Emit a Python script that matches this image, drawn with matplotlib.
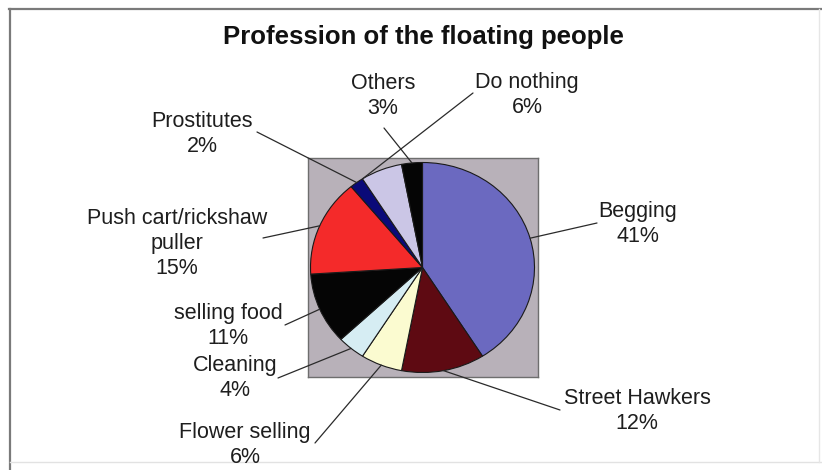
import numpy as np
import matplotlib.pyplot as plt
from matplotlib.lines import Line2D

plt.rcParams['font.family'] = ['Liberation Sans', 'DejaVu Sans']

# shares of each profession, clockwise from 12 o'clock
professions = ['Begging', 'Street Hawkers', 'Flower selling', 'Cleaning',
               'selling food', 'Push cart/rickshaw\npuller', 'Prostitutes',
               'Do nothing', 'Others']
shares = [41, 12, 6, 4, 11, 15, 2, 6, 3]
colors = ['#6b69c0', '#5e0a12', '#fbfbd0', '#d6edf3', '#050505',
          '#f42a2a', '#0a0a78', '#cbc6e6', '#050505']

# label centres (px from top-left) and where each leader line leaves the text
label_xy = [(638, 224), (637, 411), (245, 445), (235, 378), (228, 326),
            (177, 243), (202, 134), (527, 95), (383, 96)]
line_from = [(597, 223), (560, 410), (315, 443), (278, 378), (285, 325),
             (263, 238), (257, 132), (473, 93), (384, 128)]
# position of the leader's end inside each wedge (0..1 across the wedge angle)
anchor_frac = [0.5, 0.5, 0.5, 0.5, 0.5, 0.5, 0.5, 1.0, 0.5]

W, H = 822, 470
fig = plt.figure(figsize=(W / 100, H / 100), dpi=100)

# plot area: grey square behind the pie
left, top, right, bottom = 308, 158, 538, 377
ax = fig.add_axes([left / W, 1 - bottom / H, (right - left) / W, (bottom - top) / H])
wedges, _ = ax.pie(shares, colors=colors, startangle=90, counterclock=False,
                   wedgeprops=dict(edgecolor='#1a1a1a', linewidth=0.8))
ax.set_aspect('auto')
cx, cy, rx, ry = 422.5, 267.5, 112, 105
ax.set_xlim((left - cx) / rx, (right - cx) / rx)
ax.set_ylim((cy - bottom) / ry, (cy - top) / ry)
ax.set_frame_on(True)
ax.set_facecolor('#b8b1b9')
for sp in ax.spines.values():
    sp.set_color('#6e6e6e')
    sp.set_linewidth(1.0)
ax.set_xticks([])
ax.set_yticks([])

# labels and leader lines
for w, name, val, (tx, ty), (lx, ly), f in zip(wedges, professions, shares,
                                               label_xy, line_from, anchor_frac):
    ang = np.deg2rad(w.theta1 + (w.theta2 - w.theta1) * f)
    ax.annotate('', xy=(np.cos(ang), np.sin(ang)), xycoords='data',
                xytext=(lx, H - ly), textcoords='figure pixels',
                annotation_clip=False,
                arrowprops=dict(arrowstyle='-', color='#2a2a2a', lw=0.9,
                                shrinkA=0, shrinkB=0))
    fig.text(tx / W, 1 - ty / H, f'{name}\n{val}%', ha='center', va='center',
             multialignment='center', fontsize=15.5, color='#1e1e1e',
             linespacing=1.25)

fig.text(423 / W, 1 - 37 / H, 'Profession of the floating people',
         ha='center', va='center', fontsize=18.5, fontweight='bold', color='#111111')

# outer chart border
fig.add_artist(Line2D([10 / W, 10 / W], [0, 1 - 9 / H], color='#7a7a7a', lw=1.6))
fig.add_artist(Line2D([9 / W, 1], [1 - 9 / H, 1 - 9 / H], color='#7a7a7a', lw=1.6))
fig.add_artist(Line2D([10 / W, 1], [1 - 462 / H, 1 - 462 / H], color='#e2e2e2', lw=1.0))
fig.add_artist(Line2D([819 / W, 819 / W], [1 - 462 / H, 1 - 9 / H], color='#e6e6e6', lw=1.0))

fig.savefig('out.png', dpi=100)
